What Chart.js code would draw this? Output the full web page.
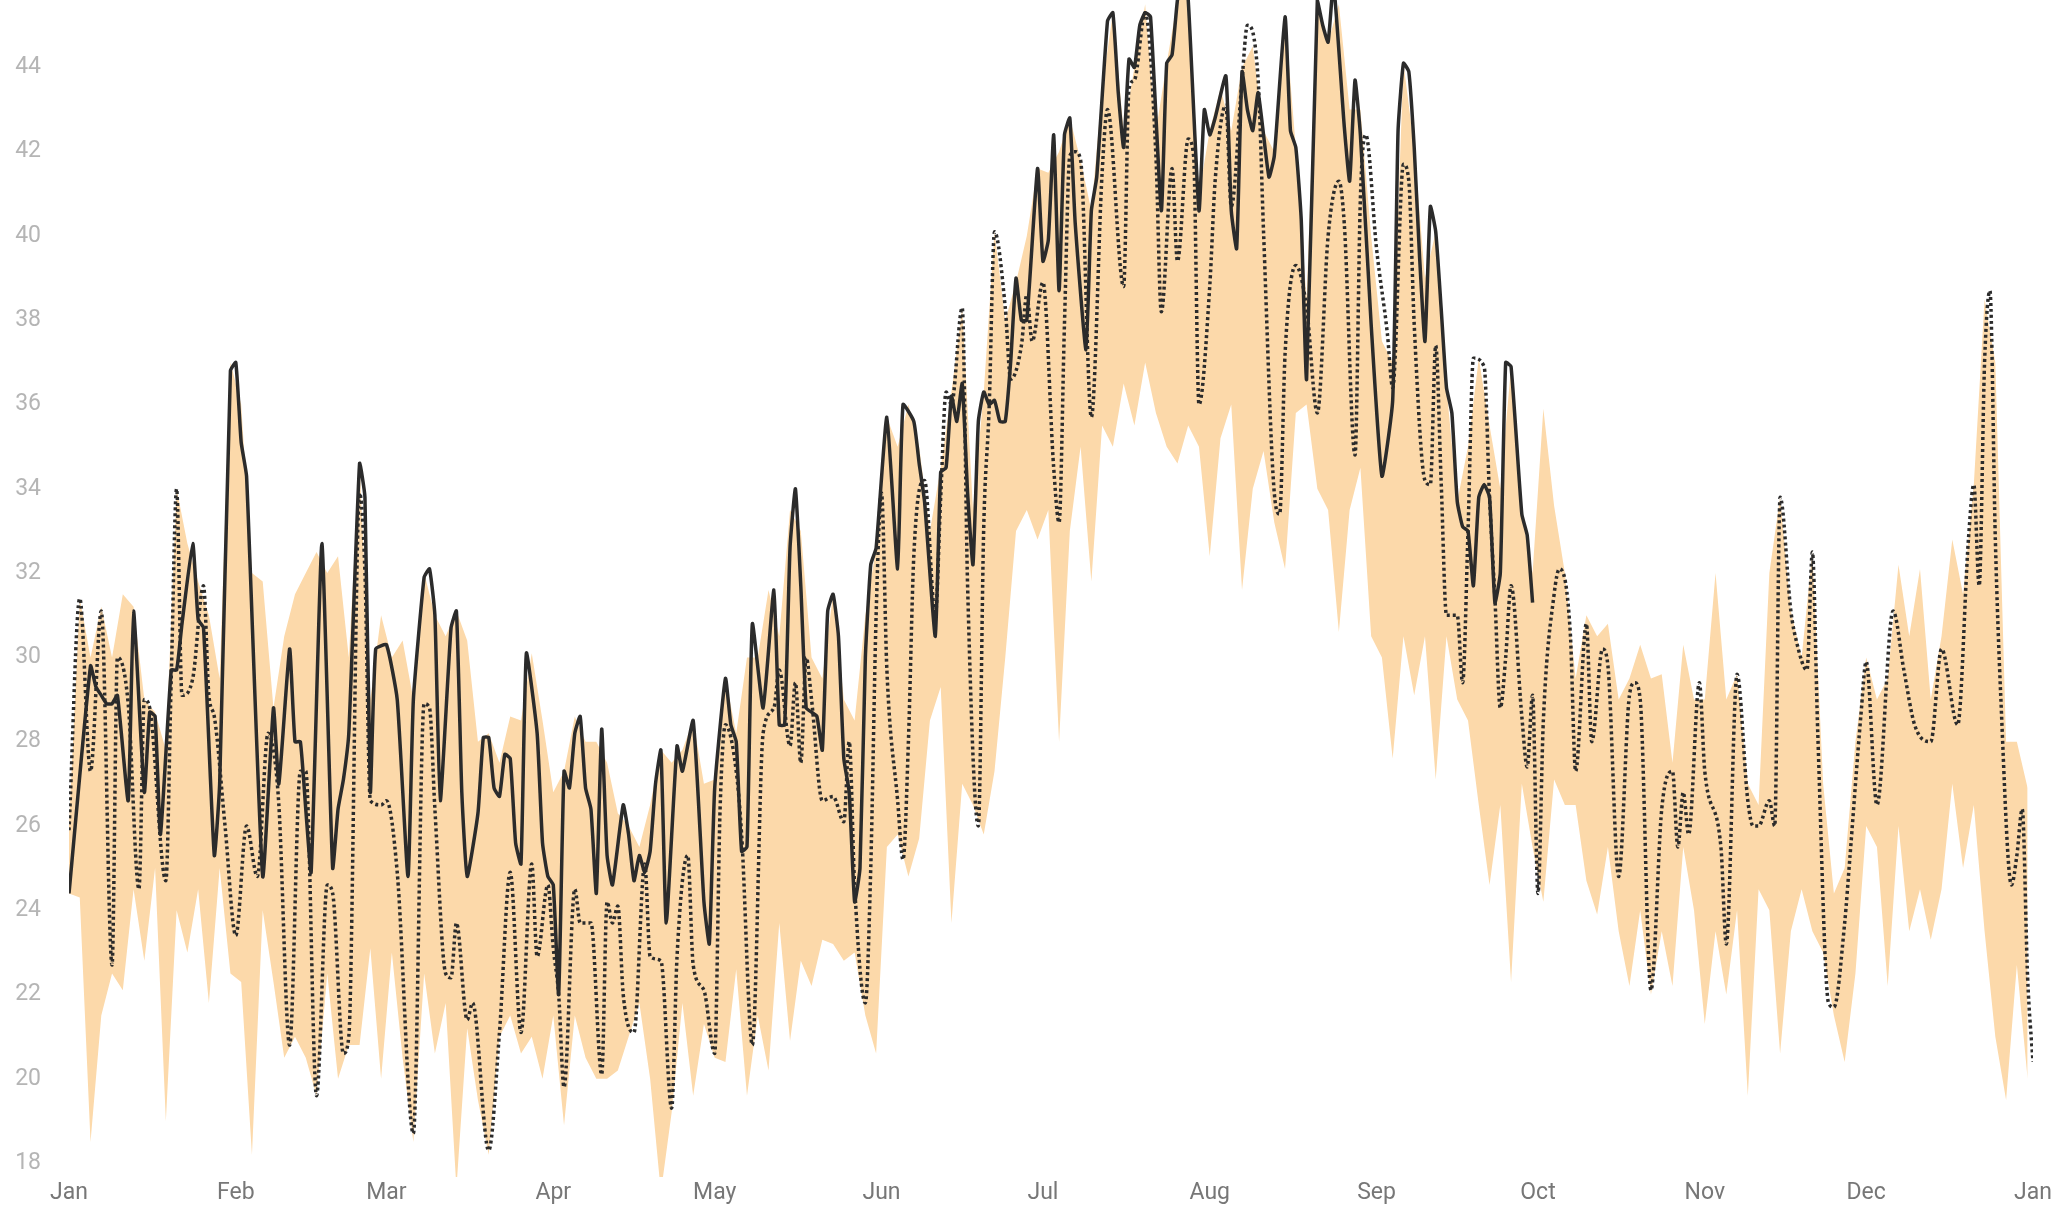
<!DOCTYPE html>
<html>
<head>
<meta charset="utf-8">
<script src="https://cdn.jsdelivr.net/npm/chart.js@4"></script>
<style>
  html, body { margin: 0; padding: 0; background: #fff; }
  #wrap { width: 2070px; height: 1209px; }
</style>
</head>
<body>
<div id="wrap"><canvas id="chart" width="2070" height="1209"></canvas></div>
<script>
// Мітки місяців (початок кожного місяця, день року)
const monthStarts = [0, 31, 59, 90, 120, 151, 181, 212, 243, 273, 304, 334, 365];
const monthLabels = ['Jan', 'Feb', 'Mar', 'Apr', 'May', 'Jun', 'Jul', 'Aug', 'Sep', 'Oct', 'Nov', 'Dec', 'Jan'];
const yTicks = [18, 20, 22, 24, 26, 28, 30, 32, 34, 36, 38, 40, 42, 44];

// Діапазон (смуга), крок 2 дні
const bandHigh = [
    26.0, 31.4, 30.0, 31.2, 30.0, 31.5, 31.2, 29.0, 28.7, 27.8,
    34.0, 32.7, 31.8, 31.0, 29.5, 37.0, 36.0, 32.0, 31.8, 28.8,
    30.5, 31.5, 32.0, 32.5, 32.0, 32.4, 30.0, 34.6, 29.0, 31.0,
    30.0, 30.4, 29.0, 32.0, 31.0, 30.5, 31.1, 30.4, 28.0, 28.2,
    27.5, 28.6, 28.5, 30.1, 28.5, 26.8, 27.3, 28.6, 28.0, 28.0,
    27.5, 26.3, 26.0, 25.5, 26.5, 27.8, 27.5, 27.8, 28.5, 27.0,
    27.1, 29.5, 28.2, 30.0, 30.0, 31.6, 30.5, 33.5, 33.0, 30.0,
    29.5, 31.5, 29.0, 28.5, 31.0, 32.6, 35.7, 35.0, 36.0, 35.0,
    33.0, 34.5, 36.3, 38.3, 33.5, 36.3, 40.1, 38.0, 38.9, 40.0,
    41.6, 41.5, 42.0, 42.8, 41.8, 40.6, 43.5, 45.3, 42.5, 44.0,
    45.5, 42.5, 44.1, 45.6, 46.0, 41.0, 42.5, 43.5, 42.5, 44.0,
    44.5, 42.5, 42.0, 45.2, 42.1, 38.5, 45.6, 44.6, 45.5, 43.0,
    43.0, 40.0, 37.5, 37.0, 44.1, 42.1, 39.0, 40.1, 36.4, 33.7,
    35.0, 37.1, 35.5, 34.0, 36.9, 33.4, 32.0, 35.9, 33.6, 32.0,
    29.5, 31.0, 30.5, 30.8, 29.0, 29.5, 30.3, 29.5, 29.6, 27.5,
    30.3, 29.0, 29.0, 32.0, 29.0, 29.6, 27.0, 26.5, 32.0, 33.8,
    31.1, 30.0, 32.5, 27.0, 24.4, 25.0, 28.0, 30.0, 29.0, 29.5,
    32.2, 30.5, 32.1, 29.0, 30.5, 32.8, 31.5, 34.1, 38.5, 37.0,
    28.0, 28.0, 26.9
];
const bandLow = [
    24.4, 24.3, 18.5, 21.5, 22.5, 22.1, 24.5, 22.8, 25.0, 19.0,
    24.0, 23.0, 24.5, 21.8, 25.0, 22.5, 22.3, 18.2, 24.0, 22.3,
    20.5, 21.0, 20.5, 19.6, 22.5, 20.0, 20.8, 20.8, 23.1, 20.0,
    23.0, 20.5, 18.5, 22.5, 20.6, 21.8, 17.4, 21.2, 19.5, 18.2,
    21.0, 21.5, 20.6, 21.0, 20.0, 21.5, 18.9, 21.5, 20.5, 20.0,
    20.0, 20.2, 21.0, 21.8, 20.0, 17.3, 19.2, 21.8, 19.6, 21.3,
    20.5, 20.4, 22.6, 19.6, 21.5, 20.2, 23.7, 20.9, 22.8, 22.2,
    23.3, 23.2, 22.8, 23.0, 21.5, 20.6, 25.5, 25.8, 24.8, 25.7,
    28.5, 29.3, 23.7, 27.0, 26.5, 25.8, 27.3, 30.0, 33.0, 33.5,
    32.8, 33.5, 28.0, 33.0, 35.0, 31.8, 35.5, 35.0, 36.5, 35.5,
    37.0, 35.8, 35.0, 34.6, 35.5, 35.0, 32.4, 35.2, 36.0, 31.6,
    34.0, 34.9, 33.2, 32.1, 35.8, 36.0, 34.0, 33.5, 30.6, 33.5,
    34.5, 30.5, 30.0, 27.6, 30.5, 29.1, 30.5, 27.1, 30.5, 29.0,
    28.5, 26.5, 24.6, 26.5, 22.3, 27.0, 25.5, 24.2, 27.1, 26.5,
    26.5, 24.7, 23.9, 25.5, 23.5, 22.2, 24.0, 22.0, 23.5, 22.2,
    25.5, 24.0, 21.3, 23.5, 22.0, 24.0, 19.6, 24.5, 24.0, 20.6,
    23.5, 24.5, 23.5, 23.0, 21.5, 20.4, 22.5, 26.0, 25.5, 22.2,
    26.0, 23.5, 24.5, 23.3, 24.5, 27.0, 25.0, 26.5, 23.5, 21.0,
    19.5, 22.7, 20.0
];

// Суцільна лінія (до кінця вересня)
const solidDays = [
    0, 4, 5, 6, 7, 8, 9, 11, 12, 14, 15, 16, 17, 19, 20, 21, 23, 24, 25, 27,
    28, 30, 31, 32, 33, 36, 38, 39, 41, 42, 43, 44, 45, 47, 49, 50, 51, 52, 54, 55,
    56, 57, 59, 61, 63, 64, 66, 67, 68, 69, 71, 72, 73, 74, 76, 77, 78, 79, 80, 81,
    82, 83, 84, 85, 87, 88, 89, 90, 91, 92, 93, 94, 95, 96, 97, 98, 99, 100, 101, 103,
    104, 105, 106, 107, 108, 109, 110, 111, 113, 114, 116, 118, 119, 120, 122, 123, 124, 125, 126, 127,
    129, 131, 132, 133, 134, 135, 136, 137, 138, 139, 140, 141, 142, 143, 144, 145, 146, 147, 148, 149,
    150, 152, 154, 155, 157, 158, 159, 161, 162, 163, 164, 165, 166, 167, 168, 169, 170, 171, 172, 173,
    174, 175, 176, 177, 178, 180, 181, 182, 183, 184, 185, 186, 187, 189, 190, 191, 193, 194, 195, 196,
    197, 198, 199, 200, 201, 203, 204, 205, 206, 207, 208, 210, 211, 212, 213, 215, 216, 217, 218, 219,
    220, 221, 223, 224, 226, 227, 228, 229, 230, 232, 233, 234, 235, 237, 238, 239, 240, 242, 244, 246,
    247, 248, 249, 250, 251, 252, 253, 254, 255, 256, 257, 258, 259, 260, 261, 262, 263, 264, 265, 266,
    267, 268, 270, 271, 272
];
const solidTemps = [
    24.4, 29.8, 29.3, 29.1, 28.9, 28.9, 29.1, 26.6, 31.1, 26.8, 28.7, 28.6, 25.8, 29.7, 29.7, 30.8, 32.7, 30.9, 30.7, 25.3,
    27.0, 36.8, 37.0, 35.1, 34.3, 24.8, 28.8, 27.0, 30.2, 28.0, 28.0, 26.4, 24.9, 32.7, 25.0, 26.4, 27.1, 28.2, 34.6, 33.8,
    26.8, 30.2, 30.3, 29.0, 24.8, 29.0, 31.9, 32.1, 31.0, 26.6, 30.7, 31.1, 26.8, 24.8, 26.3, 28.1, 28.1, 26.9, 26.7, 27.7,
    27.6, 25.6, 25.1, 30.1, 28.2, 25.6, 24.8, 24.6, 22.0, 27.3, 26.9, 28.2, 28.6, 26.9, 26.4, 24.4, 28.3, 25.3, 24.6, 26.5,
    25.8, 24.7, 25.3, 24.9, 25.4, 27.0, 27.8, 23.7, 27.9, 27.3, 28.5, 24.2, 23.2, 26.9, 29.5, 28.4, 28.0, 25.4, 25.5, 30.8,
    28.8, 31.6, 28.4, 28.4, 32.6, 34.0, 31.7, 28.8, 28.7, 28.6, 27.8, 31.1, 31.5, 30.5, 27.6, 26.8, 24.2, 25.0, 30.0, 32.2,
    32.6, 35.7, 32.1, 36.0, 35.6, 34.6, 33.7, 30.5, 34.4, 34.5, 36.2, 35.6, 36.5, 33.9, 32.2, 35.6, 36.3, 36.0, 36.1, 35.6,
    35.6, 37.0, 39.0, 38.0, 38.0, 41.6, 39.4, 39.9, 42.4, 38.7, 42.4, 42.8, 40.3, 37.3, 40.6, 41.4, 45.1, 45.3, 43.4, 42.1,
    44.2, 44.0, 45.0, 45.3, 45.2, 40.6, 44.1, 44.3, 45.6, 46.2, 45.6, 40.6, 43.0, 42.4, 42.8, 43.8, 40.6, 39.7, 43.9, 43.0,
    42.5, 43.4, 41.4, 41.9, 45.2, 42.5, 42.1, 40.4, 36.6, 45.6, 45.0, 44.6, 46.0, 42.6, 41.3, 43.7, 42.4, 37.9, 34.3, 36.1,
    42.5, 44.1, 43.9, 42.1, 39.5, 37.5, 40.7, 40.1, 38.3, 36.4, 35.8, 33.7, 33.1, 33.0, 31.7, 33.8, 34.1, 33.8, 31.3, 32.0,
    37.0, 36.9, 33.4, 32.9, 31.3
];

// Пунктирна лінія (весь рік)
const dottedDays = [
    0, 2, 4, 6, 8, 9, 11, 13, 14, 15, 18, 19, 20, 21, 23, 25, 26, 27, 29, 31,
    33, 35, 37, 38, 39, 41, 43, 44, 46, 48, 49, 51, 52, 54, 55, 56, 58, 59, 61, 64,
    66, 67, 68, 70, 71, 72, 74, 75, 78, 80, 82, 84, 86, 87, 89, 90, 91, 92, 94, 95,
    97, 99, 100, 101, 102, 103, 105, 107, 108, 110, 112, 113, 115, 116, 118, 120, 121, 122, 124, 125,
    127, 129, 131, 132, 134, 135, 136, 137, 138, 140, 142, 144, 145, 146, 148, 149, 150, 151, 152, 154,
    155, 156, 157, 159, 161, 162, 163, 164, 166, 167, 169, 170, 171, 172, 174, 175, 177, 178, 179, 181,
    183, 184, 185, 186, 187, 188, 190, 192, 193, 196, 197, 198, 200, 202, 203, 205, 206, 208, 209, 210,
    212, 213, 215, 216, 218, 219, 221, 222, 224, 225, 226, 228, 230, 232, 234, 236, 237, 239, 240, 241,
    243, 245, 246, 248, 249, 250, 252, 253, 254, 255, 256, 258, 259, 260, 261, 263, 264, 265, 266, 267,
    268, 270, 271, 272, 273, 274, 276, 277, 279, 280, 282, 283, 285, 286, 288, 290, 291, 292, 294, 296,
    298, 299, 300, 301, 303, 304, 307, 308, 310, 312, 313, 314, 316, 317, 318, 320, 321, 323, 324, 325,
    327, 328, 330, 331, 333, 334, 336, 339, 341, 343, 346, 348, 351, 353, 354, 355, 356, 357, 358, 359,
    361, 362, 363, 364, 365
];
const dottedTemps = [
    25.9, 31.4, 27.3, 31.1, 22.7, 30.0, 28.9, 24.5, 29.0, 28.8, 24.7, 29.5, 34.0, 29.1, 29.5, 31.7, 29.1, 28.6, 26.0, 23.4,
    26.0, 24.8, 28.2, 27.8, 26.5, 20.8, 27.3, 27.3, 19.6, 24.6, 24.4, 20.6, 21.0, 33.9, 32.0, 26.6, 26.5, 26.6, 24.9, 18.7,
    28.9, 28.8, 26.4, 22.5, 22.4, 23.7, 21.4, 21.8, 18.3, 21.1, 24.9, 21.1, 25.1, 22.9, 24.6, 23.1, 22.0, 19.8, 24.5, 23.7,
    23.7, 20.1, 24.2, 23.7, 24.1, 22.0, 21.1, 25.1, 22.9, 22.8, 19.3, 22.9, 25.3, 22.7, 22.1, 20.6, 26.4, 28.4, 27.3, 25.8,
    20.8, 28.2, 28.8, 29.7, 27.9, 29.4, 27.5, 30.0, 29.0, 26.6, 26.7, 26.1, 28.0, 24.6, 21.8, 25.0, 31.0, 33.9, 29.7, 26.6,
    25.2, 28.0, 32.4, 34.2, 31.0, 33.8, 36.3, 36.0, 38.3, 31.7, 26.0, 33.1, 35.9, 40.1, 38.3, 36.6, 37.4, 38.6, 37.5, 38.9,
    34.5, 33.2, 37.9, 41.9, 42.0, 41.8, 35.7, 41.5, 43.0, 38.8, 43.5, 43.7, 45.3, 41.9, 38.2, 41.6, 39.4, 42.3, 41.9, 36.0,
    38.8, 41.3, 43.1, 40.7, 43.7, 45.0, 43.7, 40.1, 33.9, 33.4, 37.2, 39.3, 38.3, 35.8, 40.0, 41.3, 40.3, 34.8, 40.9, 42.4,
    39.7, 37.7, 36.4, 41.7, 41.3, 37.9, 34.2, 34.1, 37.4, 34.2, 31.0, 31.0, 29.4, 33.0, 37.1, 36.9, 33.8, 31.4, 28.8, 30.0,
    31.7, 28.6, 27.4, 29.1, 24.4, 28.5, 31.5, 32.1, 30.6, 27.3, 30.8, 28.0, 30.2, 29.8, 24.8, 29.1, 29.4, 29.0, 22.1, 26.4,
    27.3, 25.5, 26.8, 25.8, 29.4, 27.3, 25.5, 23.2, 29.6, 26.6, 26.0, 26.0, 26.6, 26.0, 33.8, 31.1, 30.4, 29.7, 32.5, 28.2,
    21.8, 21.7, 23.7, 25.3, 28.6, 29.9, 26.5, 31.1, 29.7, 28.4, 28.0, 30.2, 28.4, 32.8, 34.1, 31.7, 37.0, 38.7, 32.8, 29.1,
    24.6, 25.3, 26.4, 22.4, 20.4
];

const toPoints = (days, vals) => days.map((d, i) => ({ x: d, y: vals[i] }));
const bandPoints = vals => vals.map((v, i) => ({ x: i * 2, y: v }));

const tickFont = { family: 'Roboto', size: 23 };

new Chart(document.getElementById('chart'), {
    type: 'line',
    data: {
        datasets: [
            {
                label: 'solid',
                data: toPoints(solidDays, solidTemps),
                borderColor: '#2b2b2b',
                borderWidth: 3.5,
                pointRadius: 0,
                tension: 0.15,
                fill: false,
                order: 0
            },
            {
                label: 'dotted',
                data: toPoints(dottedDays, dottedTemps),
                borderColor: '#2b2b2b',
                borderWidth: 3.5,
                borderDash: [3, 3],
                pointRadius: 0,
                cubicInterpolationMode: 'monotone',
                fill: false,
                order: 1
            },
            {
                label: 'low',
                data: bandPoints(bandLow),
                borderColor: 'transparent',
                borderWidth: 0,
                pointRadius: 0,
                fill: false,
                order: 3
            },
            {
                label: 'high',
                data: bandPoints(bandHigh),
                borderColor: 'transparent',
                borderWidth: 0,
                pointRadius: 0,
                backgroundColor: '#fcd9aa',
                fill: '-1',
                order: 2
            }
        ]
    },
    options: {
        responsive: false,
        animation: false,
        devicePixelRatio: 1,
        layout: { padding: { left: 0, right: 37, top: 0, bottom: 0 } },
        plugins: {
            legend: { display: false },
            tooltip: { enabled: false }
        },
        scales: {
            x: {
                type: 'linear',
                min: 0,
                max: 365,
                grid: { display: false, drawTicks: false },
                border: { display: false },
                afterBuildTicks: s => { s.ticks = monthStarts.map(v => ({ value: v })); },
                afterFit: s => {
                    s.height = 32;
                    s.paddingLeft = 0;
                    s.paddingRight = 0;
                },
                ticks: {
                    color: '#777',
                    font: tickFont,
                    padding: 2,
                    maxRotation: 0,
                    autoSkip: false,
                    callback: v => monthLabels[monthStarts.indexOf(v)]
                }
            },
            y: {
                min: 17.67,
                max: 45.6,
                grid: { display: false, drawTicks: false },
                border: { display: false },
                afterBuildTicks: s => { s.ticks = yTicks.map(v => ({ value: v })); },
                afterFit: s => {
                    s.width = 69;
                    s.paddingTop = 0;
                    s.paddingBottom = 0;
                },
                ticks: {
                    color: '#b5b5b5',
                    font: tickFont,
                    padding: 28
                }
            }
        }
    }
});
</script>
</body>
</html>
